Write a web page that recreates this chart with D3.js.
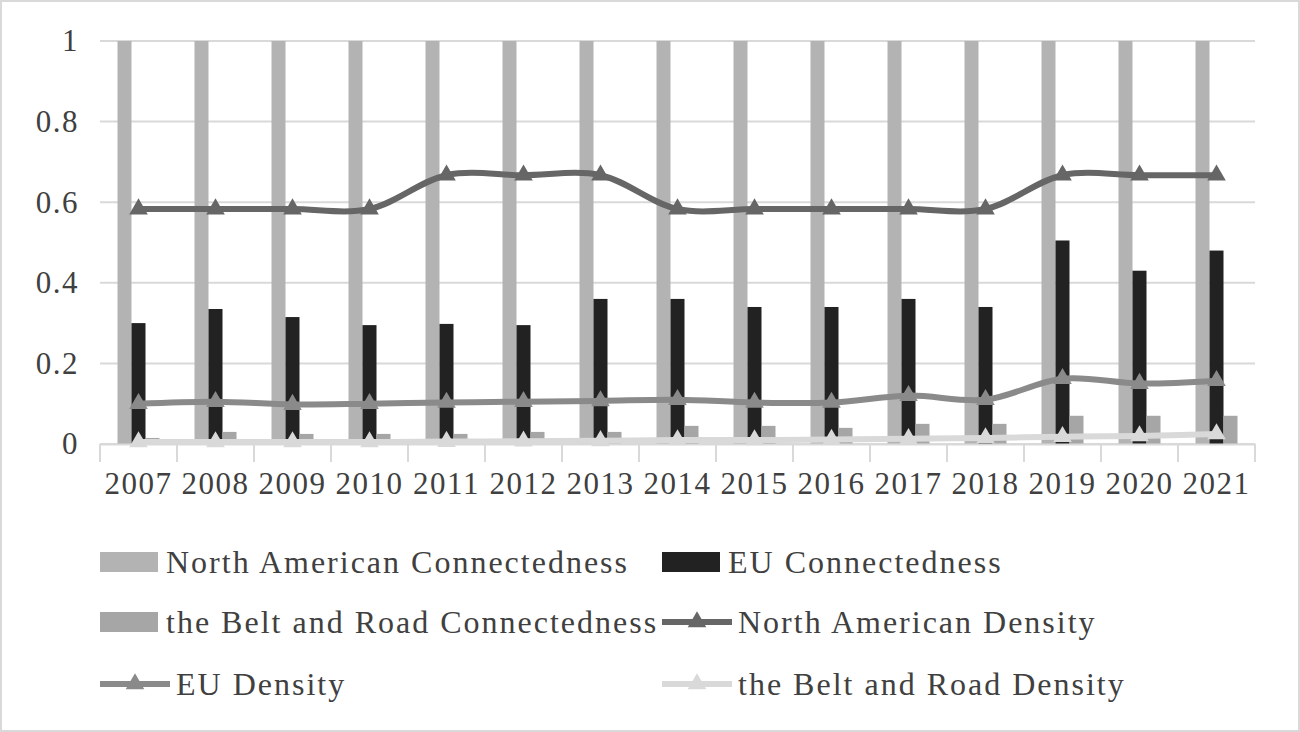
<!DOCTYPE html>
<html><head><meta charset="utf-8">
<script src="https://cdn.jsdelivr.net/npm/d3@7"></script>
<style>body{margin:0;background:#fff}svg{font-family:"Liberation Serif","Times New Roman",serif}</style>
</head><body><svg id="c" width="1300" height="732"></svg>
<script>
const years = ["2007","2008","2009","2010","2011","2012","2013","2014","2015","2016","2017","2018","2019","2020","2021"];
const naConn = [1,1,1,1,1,1,1,1,1,1,1,1,1,1,1];
const euConn = [0.30,0.335,0.315,0.295,0.298,0.295,0.36,0.36,0.34,0.34,0.36,0.34,0.505,0.43,0.48];
const briConn = [0.015,0.03,0.025,0.025,0.025,0.03,0.03,0.045,0.045,0.04,0.05,0.05,0.07,0.07,0.07];
const naDens = [0.583,0.583,0.583,0.583,0.667,0.667,0.667,0.583,0.583,0.583,0.583,0.583,0.667,0.667,0.667];
const euDens = [0.10,0.105,0.098,0.10,0.103,0.105,0.107,0.11,0.103,0.103,0.12,0.11,0.162,0.15,0.157];
const briDens = [0.005,0.005,0.005,0.005,0.006,0.007,0.008,0.01,0.01,0.011,0.013,0.015,0.018,0.02,0.025];
const yTicks = [0,0.2,0.4,0.6,0.8,1];

const svg = d3.select("#c");
svg.append("rect").attr("x",1).attr("y",1).attr("width",1298).attr("height",730).attr("fill","#fff").attr("stroke","#d9d9d9").attr("stroke-width",2);

const x = d3.scaleBand().domain(years).range([100,1255]);
const y = d3.scaleLinear().domain([0,1]).range([444,41]);
const sub = d3.scaleBand().domain([0,1,2]).range([-21,21]);

const g = svg.append("g");
g.selectAll(".grid").data(yTicks).join("line")
  .attr("x1",100).attr("x2",1255).attr("y1",d=>y(d)).attr("y2",d=>y(d))
  .attr("stroke","#d9d9d9").attr("stroke-width",2);

const yAxis = svg.append("g").attr("transform","translate(82,0)")
  .call(d3.axisLeft(y).tickValues(yTicks).tickSize(0).tickFormat(d=>d));
yAxis.select(".domain").remove();
yAxis.selectAll("text").style("font-size","31px").attr("fill","#404040").attr("letter-spacing",1.5).style("font-family","Liberation Serif");

const bars = [[naConn,"#b3b3b3"],[euConn,"#222"],[briConn,"#a6a6a6"]];
bars.forEach(([vals,col],k)=>{
  g.selectAll(null).data(vals).join("rect")
    .attr("x",(d,i)=>x(years[i])+x.bandwidth()/2+sub(k))
    .attr("width",sub.bandwidth())
    .attr("y",d=>y(d)).attr("height",d=>y(0)-y(d)).attr("fill",col);
});

const xAxis = svg.append("g").attr("transform","translate(0,444)")
  .call(d3.axisBottom(x).tickSize(18).tickSizeOuter(0));
xAxis.select(".domain").attr("stroke","#d9d9d9").attr("stroke-width",2);
xAxis.selectAll(".tick line").attr("stroke","#d9d9d9").attr("stroke-width",2)
  .attr("transform",`translate(${-x.bandwidth()/2},0)`);
svg.append("line").attr("x1",1255).attr("x2",1255).attr("y1",444).attr("y2",462).attr("stroke","#d9d9d9").attr("stroke-width",2);
xAxis.selectAll("text").style("font-size","31px").attr("fill","#404040").attr("letter-spacing",1.5).attr("dy","0.95em").style("font-family","Liberation Serif");

const line = d3.line().x((d,i)=>x(years[i])+x.bandwidth()/2).y(d=>y(d)).curve(d3.curveCatmullRom.alpha(0.5));
const tri = d3.symbol().type(d3.symbolTriangle).size(150);
const lines = [[naDens,"#666"],[euDens,"#8a8a8a"],[briDens,"#d9d9d9"]];
lines.forEach(([vals,col])=>{
  g.append("path").datum(vals).attr("d",line).attr("fill","none").attr("stroke",col).attr("stroke-width",6);
  g.selectAll(null).data(vals).join("path").attr("d",tri).attr("fill",col)
    .attr("transform",(d,i)=>`translate(${x(years[i])+x.bandwidth()/2},${y(d)})`);
});

const legend = [
  {t:"North American Connectedness",c:"#b3b3b3",bar:true,x:100,y:562},
  {t:"EU Connectedness",c:"#222",bar:true,x:662,y:562},
  {t:"the Belt and Road Connectedness",c:"#a6a6a6",bar:true,x:100,y:622},
  {t:"North American Density",c:"#666",bar:false,x:662,y:622},
  {t:"EU Density",c:"#8a8a8a",bar:false,x:100,y:684},
  {t:"the Belt and Road Density",c:"#d9d9d9",bar:false,x:662,y:684}
];
const lg = svg.selectAll(".lg").data(legend).join("g").attr("transform",d=>`translate(${d.x},${d.y})`);
lg.filter(d=>d.bar).append("rect").attr("x",0).attr("y",-10).attr("width",58).attr("height",20).attr("fill",d=>d.c);
lg.filter(d=>!d.bar).append("line").attr("x1",0).attr("x2",70).attr("stroke",d=>d.c).attr("stroke-width",6);
lg.filter(d=>!d.bar).append("path").attr("d",tri).attr("transform","translate(35,0)").attr("fill",d=>d.c);
lg.append("text").attr("x",d=>d.bar?66:76).attr("dy","0.35em").attr("font-size",32).attr("letter-spacing",2).attr("fill","#404040").text(d=>d.t);
</script></body></html>
